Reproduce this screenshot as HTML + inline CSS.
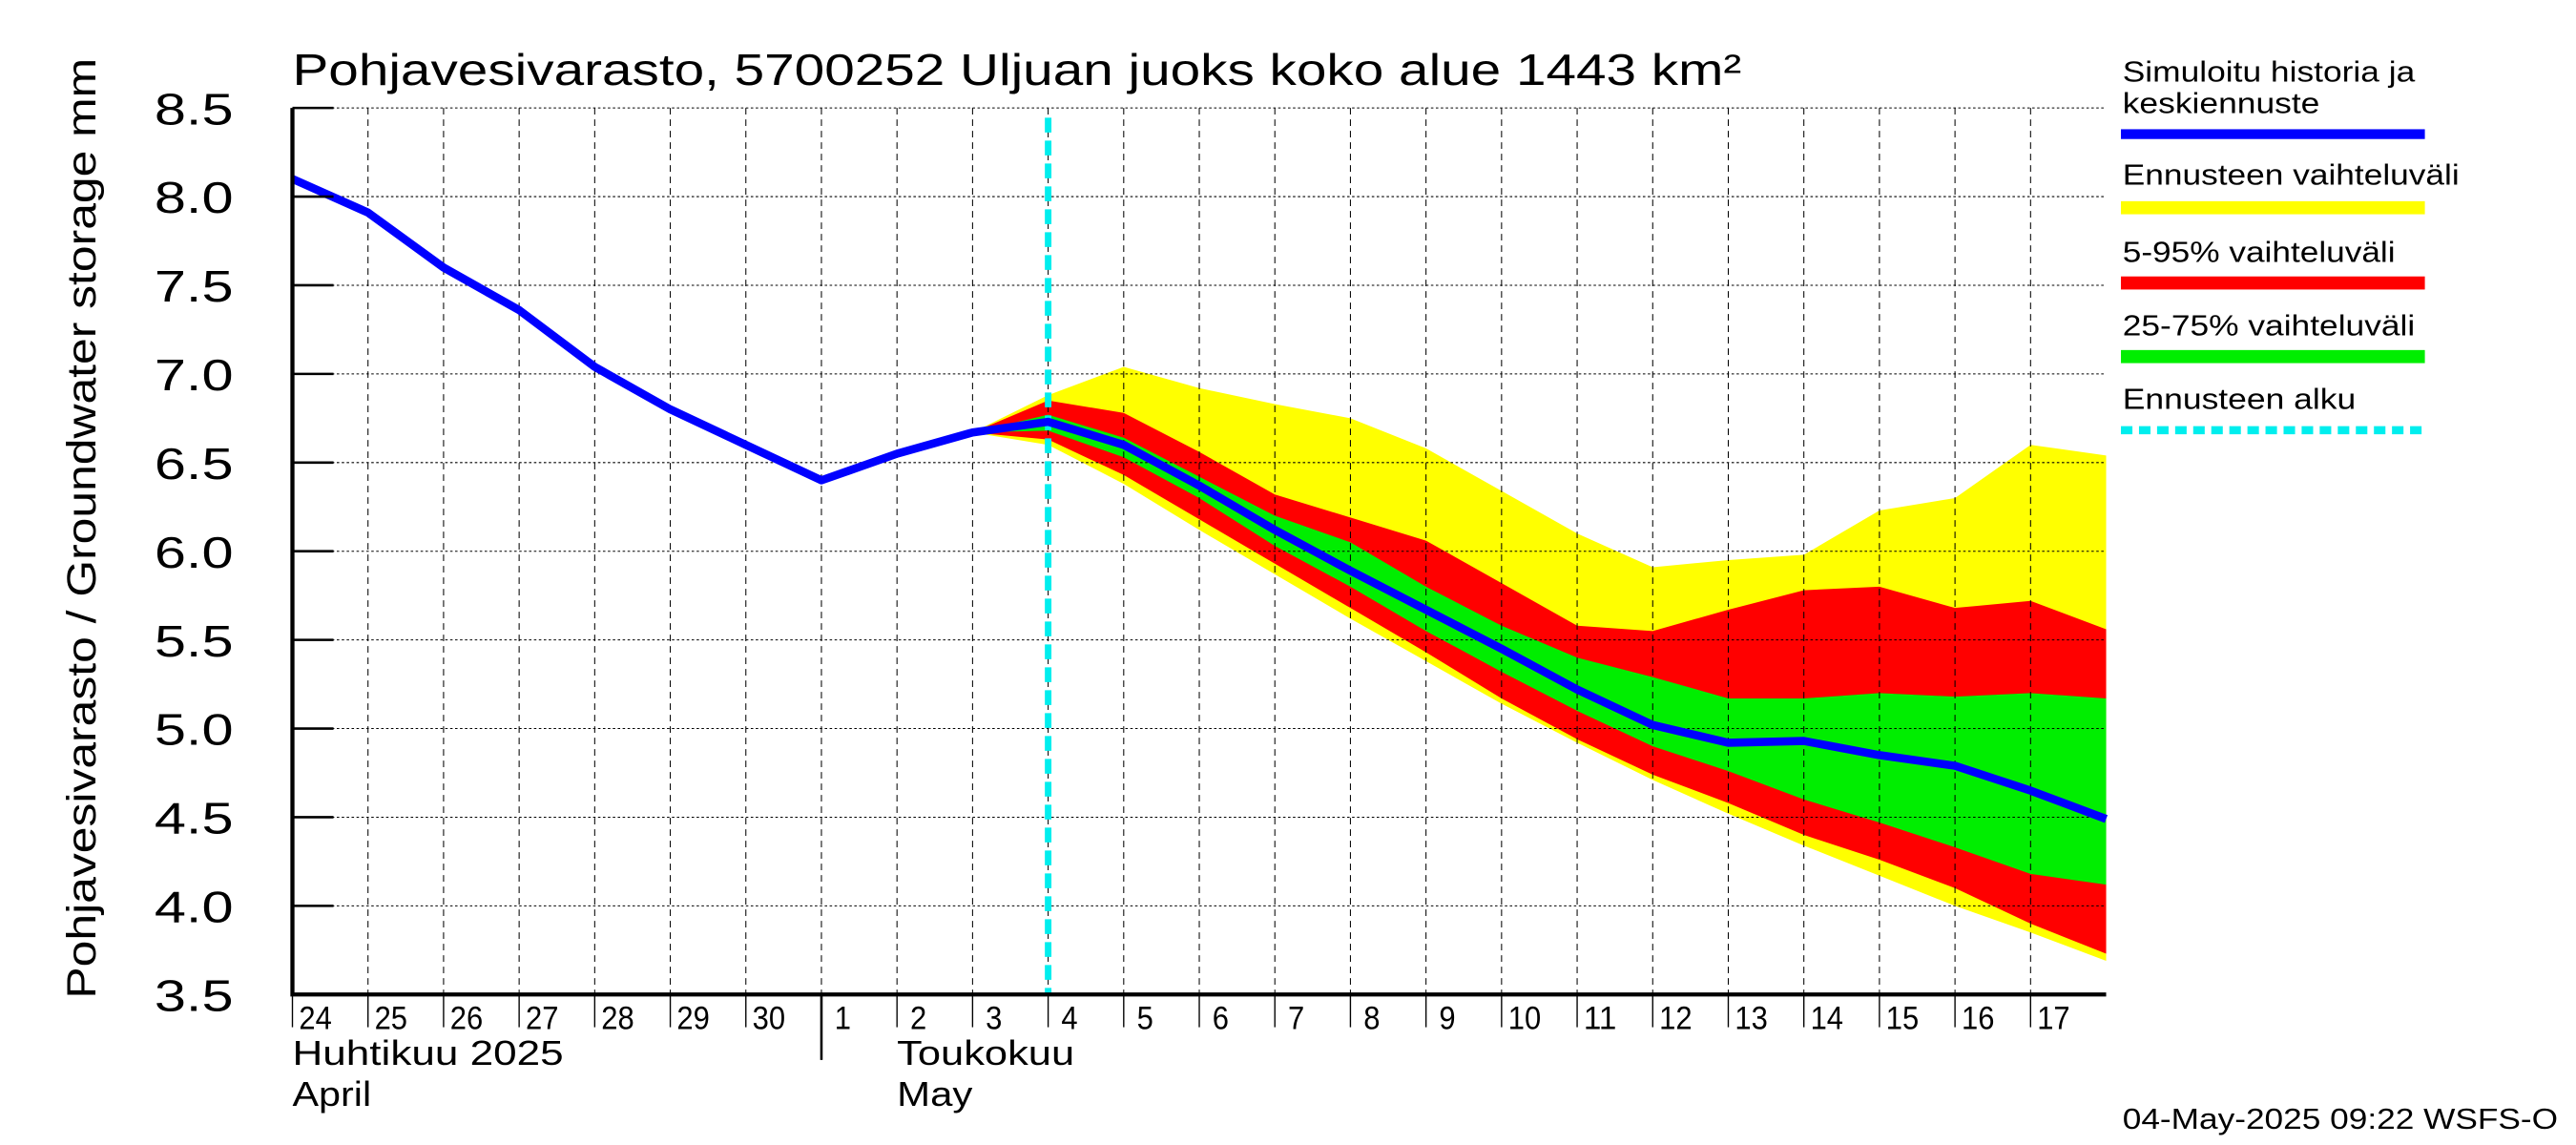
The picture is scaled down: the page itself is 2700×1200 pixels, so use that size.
<!DOCTYPE html>
<html><head><meta charset="utf-8"><style>
html,body{margin:0;padding:0;background:#fff;}
svg{display:block;font-family:"Liberation Sans",sans-serif;}
</style></head><body>
<svg id="chart" width="2700" height="1200" viewBox="0 0 1568 700" preserveAspectRatio="none" xmlns="http://www.w3.org/2000/svg">
<rect width="1568" height="700" fill="#fff"/>
<g id="bands"></g>
<g id="grid"></g>
<g id="lines"></g>
<g id="axes"></g>
<text x="178" y="52" font-size="27" textLength="882" lengthAdjust="spacingAndGlyphs">Pohjavesivarasto, 5700252 Uljuan juoks koko alue 1443 km²</text>
<text transform="translate(58,323) rotate(-90)" text-anchor="middle" font-size="25" textLength="575" lengthAdjust="spacingAndGlyphs">Pohjavesivarasto / Groundwater storage    mm</text>
<g font-size="18">
<text x="1292" y="50" textLength="178" lengthAdjust="spacingAndGlyphs">Simuloitu historia ja</text>
<text x="1292" y="69" textLength="120" lengthAdjust="spacingAndGlyphs">keskiennuste</text>
<rect x="1291" y="79" width="185" height="6" fill="#0000ff"/>
<text x="1292" y="113" textLength="205" lengthAdjust="spacingAndGlyphs">Ennusteen vaihteluväli</text>
<rect x="1291" y="123" width="185" height="8" fill="#ffff00"/>
<text x="1292" y="160" textLength="166" lengthAdjust="spacingAndGlyphs">5-95% vaihteluväli</text>
<rect x="1291" y="169" width="185" height="8" fill="#ff0000"/>
<text x="1292" y="205" textLength="178" lengthAdjust="spacingAndGlyphs">25-75% vaihteluväli</text>
<rect x="1291" y="214" width="185" height="8" fill="#00ee00"/>
<text x="1292" y="250" textLength="142" lengthAdjust="spacingAndGlyphs">Ennusteen alku</text>
<line x1="1291" y1="263" x2="1476" y2="263" stroke="#00eeee" stroke-width="5" stroke-dasharray="7,4"/>
</g>
<text x="1292" y="690" font-size="18" textLength="265" lengthAdjust="spacingAndGlyphs">04-May-2025 09:22 WSFS-O</text>
<text x="178" y="651" font-size="21" textLength="165" lengthAdjust="spacingAndGlyphs">Huhtikuu  2025</text>
<text x="178" y="676" font-size="21" textLength="48" lengthAdjust="spacingAndGlyphs">April</text>
<text x="546" y="651" font-size="21" textLength="108" lengthAdjust="spacingAndGlyphs">Toukokuu</text>
<text x="546" y="676" font-size="21" textLength="46" lengthAdjust="spacingAndGlyphs">May</text>
</svg>
<script>
const dayLabels = ["24","25","26","27","28","29","30","1","2","3","4","5","6","7","8","9","10","11","12","13","14","15","16","17"];
const yTicks = [3.5,4.0,4.5,5.0,5.5,6.0,6.5,7.0,7.5,8.0,8.5];
const historyMedian = [8.10,7.91,7.60,7.36,7.04,6.80,6.60,6.40,6.55,6.67,6.73,6.60,6.37,6.12,5.89,5.67,5.45,5.22,5.02,4.92,4.93,4.85,4.79,4.65,4.49];
const forecastStartIndex = 10;
const bandStartIndex = 9;
const yellowTop = [6.67,6.88,7.04,6.92,6.83,6.75,6.58,6.34,6.10,5.91,5.95,5.98,6.23,6.30,6.60,6.54];
const yellowBottom = [6.67,6.60,6.38,6.12,5.87,5.62,5.38,5.14,4.92,4.71,4.52,4.34,4.17,4.00,3.85,3.69];
const redTop = [6.67,6.85,6.78,6.56,6.32,6.19,6.06,5.82,5.58,5.55,5.67,5.78,5.80,5.68,5.72,5.56];
const redBottom = [6.67,6.63,6.43,6.18,5.93,5.68,5.43,5.17,4.94,4.74,4.58,4.40,4.26,4.10,3.90,3.73];
const greenTop = [6.67,6.77,6.64,6.42,6.20,6.05,5.80,5.58,5.40,5.29,5.17,5.17,5.20,5.18,5.20,5.17];
const greenBottom = [6.67,6.68,6.53,6.30,6.03,5.80,5.55,5.32,5.10,4.90,4.76,4.60,4.47,4.33,4.18,4.12];

const NS="http://www.w3.org/2000/svg";
const X0=178,DX=46,Y0=608,YMIN=3.5,YMAX=8.5,YTOP=66,XR=1282;
const xs=i=>X0+i*DX;
const ys=v=>Y0-(v-YMIN)/(YMAX-YMIN)*(Y0-YTOP);
function mk(tag,attrs,parent){const e=document.createElementNS(NS,tag);for(const k in attrs)e.setAttribute(k,attrs[k]);parent.appendChild(e);return e;}
const bands=document.getElementById('bands'),grid=document.getElementById('grid'),lines=document.getElementById('lines'),axes=document.getElementById('axes');
function band(top,bot,color,name){
  let pts=top.map((v,k)=>xs(bandStartIndex+k)+','+ys(v));
  for(let k=bot.length-1;k>=0;k--)pts.push(xs(bandStartIndex+k)+','+ys(bot[k]));
  const p=mk('polygon',{points:pts.join(' '),fill:color},bands);
  
  
}
band(yellowTop,yellowBottom,'#ffff00','band-yellow');
band(redTop,redBottom,'#ff0000','band-red');
band(greenTop,greenBottom,'#00ee00','band-green');
yTicks.forEach(t=>{
  const y=ys(t);
  const g=mk('line',{x1:X0,y1:y,x2:XR,y2:y,stroke:'#000','stroke-width':0.6,'stroke-dasharray':'1.5,1.5'},grid);
  
  
  const tk=mk('line',{x1:X0,y1:y,x2:X0+25,y2:y,stroke:'#000','stroke-width':1.5},axes);
  
  
  const tx=mk('text',{x:142,y:y+10,'text-anchor':'end','font-size':27,textLength:48,lengthAdjust:'spacingAndGlyphs'},axes);
  tx.textContent=t.toFixed(1);
  
  
});
dayLabels.forEach((d,i)=>{
  const x=xs(i);
  if(i>0){
    const g=mk('line',{x1:x,y1:YTOP,x2:x,y2:Y0,stroke:'#000','stroke-width':0.6,'stroke-dasharray':'4,3'},grid);
    
    
  }
  const tk=mk('line',{x1:x,y1:Y0,x2:x,y2:(i==7?648:628),stroke:'#000','stroke-width':(i==7?1.5:0.8)},axes);
  
  
  const tx=mk('text',{x:x+(d.length>1?4:8),y:629,'font-size':20,textLength:(d.length>1?20:10),lengthAdjust:'spacingAndGlyphs'},axes);
  tx.textContent=d;
  
  
});
const ax=mk('path',{d:`M${X0},${YTOP} V${Y0} H${XR}`,fill:'none',stroke:'#000','stroke-width':2.5},axes);


const fs=mk('line',{x1:xs(forecastStartIndex),y1:72,x2:xs(forecastStartIndex),y2:Y0,stroke:'#00eeee','stroke-width':4,'stroke-dasharray':'9,5'},lines);


const ml=mk('polyline',{points:historyMedian.map((v,i)=>xs(i)+','+ys(v)).join(' '),fill:'none',stroke:'#0000ff','stroke-width':5,'stroke-linejoin':'round'},lines);


</script>
</body></html>
